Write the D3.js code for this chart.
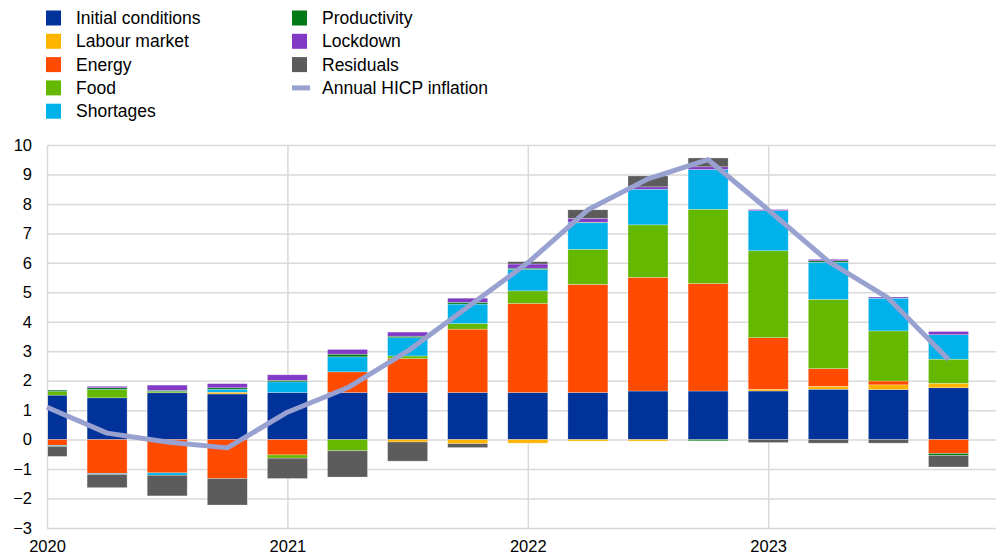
<!DOCTYPE html>
<html>
<head>
<meta charset="utf-8">
<script src="https://cdn.jsdelivr.net/npm/d3@7"></script>
<style>
  body { margin: 0; background: #fff; }
  text { font-family: Arial, "Liberation Sans", sans-serif; fill: #000; }
</style>
</head>
<body>
<div id="chart_area"></div>
<script>
// quarters 2020Q1 .. 2023Q4
var quarters = ["2020Q1","2020Q2","2020Q3","2020Q4","2021Q1","2021Q2","2021Q3","2021Q4",
                "2022Q1","2022Q2","2022Q3","2022Q4","2023Q1","2023Q2","2023Q3","2023Q4"];
var yearTicks = [0, 4, 8, 12];
var yearLabels = ["2020", "2021", "2022", "2023"];
var yTicks = [-3, -2, -1, 0, 1, 2, 3, 4, 5, 6, 7, 8, 9, 10];

// contributions (percentage points)
var initial      = [1.51, 1.42, 1.59, 1.55, 1.60, 1.60, 1.60, 1.60, 1.60, 1.60, 1.65, 1.65, 1.65, 1.71, 1.70, 1.76];
var labour       = [0, 0, 0, 0.06, 0, 0, -0.08, -0.14, -0.12, -0.05, -0.05, 0, 0.06, 0.10, 0.16, 0.15];
var energy       = [-0.20, -1.15, -1.13, -1.32, -0.52, 0.70, 1.15, 2.15, 3.02, 3.67, 3.86, 3.65, 1.75, 0.60, 0.13, -0.47];
var food         = [0.12, 0.28, 0.04, 0, -0.11, -0.38, 0.09, 0.19, 0.43, 1.19, 1.78, 2.52, 2.95, 2.35, 1.70, 0.82];
var shortages    = [-0.03, -0.03, -0.08, 0.10, 0.36, 0.51, 0.62, 0.66, 0.73, 0.90, 1.21, 1.35, 1.36, 1.26, 1.11, 0.83];
var productivity = [0.05, 0.06, 0.04, 0.05, 0.05, 0.09, 0.05, 0.06, 0.04, 0.02, 0, -0.04, 0, 0.05, 0, -0.07];
var lockdown     = [0, 0.05, 0.18, 0.14, 0.19, 0.16, 0.14, 0.14, 0.14, 0.13, 0.08, 0.09, 0.04, 0.05, 0.04, 0.11];
var residuals    = [-0.34, -0.45, -0.70, -0.90, -0.69, -0.89, -0.65, -0.13, 0.08, 0.29, 0.37, 0.30, -0.10, -0.12, -0.12, -0.39];

// annual HICP inflation
var hicp = [1.1, 0.22, -0.08, -0.28, 0.93, 1.76, 3.0, 4.5, 6.0, 7.8, 8.85, 9.5, 7.8, 6.05, 4.8, 2.72];

var seriesNames = ["Initial conditions", "Labour market", "Energy", "Food", "Shortages", "Productivity", "Lockdown", "Residuals"];
var seriesValues = [initial, labour, energy, food, shortages, productivity, lockdown, residuals];
var seriesColors = ["#003299", "#ffb400", "#ff4b00", "#65b800", "#00b1ea", "#007816", "#8139c6", "#5c5c5c"];
var lineName = "Annual HICP inflation";
var lineColor = "#98a1d0";

//////////////////////SETUP//////////////////////////

var frame_width = 996;
var frame_height = 558;
var plot = {left: 47, right: 996, top: 145, bottom: 528};

var svg = d3.select("#chart_area").append("svg")
    .attr("width", frame_width)
    .attr("height", frame_height);

// table for the stack
var table = quarters.map(function(q, i) {
  var row = {quarter: q, index: i};
  seriesNames.forEach(function(name, s) { row[name] = seriesValues[s][i]; });
  return row;
});

var stack = d3.stack()
    .keys(seriesNames)
    .offset(d3.stackOffsetDiverging);
var layers = stack(table);

// x: one step per quarter, year label sits on the first quarter
var step = 60.1;
var xScale = d3.scaleLinear()
    .domain([0, 1])
    .range([plot.left, plot.left + step]);
var yScale = d3.scaleLinear()
    .domain([-3, 10])
    .range([plot.bottom, plot.top]);
var barWidth = 40;

//////////////////////GRID + AXES//////////////////////////

var yAxis = d3.axisLeft(yScale)
    .tickValues(yTicks)
    .tickSize(-(plot.right - plot.left))
    .tickPadding(15)
    .tickFormat(d3.format("d"));
var gy = svg.append("g")
    .attr("transform", "translate(" + plot.left + ",0)")
    .call(yAxis);
gy.select(".domain").remove();
gy.selectAll("line").attr("stroke", "#d9d9d9").attr("stroke-width", 1.5);
gy.selectAll("text").style("font-size", "16.5px").attr("x", -15);

var xAxis = d3.axisBottom(xScale)
    .tickValues(yearTicks)
    .tickSize(-(plot.bottom - plot.top))
    .tickPadding(10)
    .tickFormat(function(d, i) { return yearLabels[i]; });
var gx = svg.append("g")
    .attr("transform", "translate(0," + plot.bottom + ")")
    .call(xAxis);
gx.select(".domain").remove();
gx.selectAll("line").attr("stroke", "#d9d9d9").attr("stroke-width", 1.5);
gx.selectAll("text").style("font-size", "16.5px").attr("y", 12);

//////////////////////BARS//////////////////////////

svg.append("clipPath").attr("id", "plotclip")
  .append("rect")
    .attr("x", plot.left + 1)
    .attr("y", 0)
    .attr("width", plot.right - plot.left)
    .attr("height", frame_height);

var barGroup = svg.append("g").attr("clip-path", "url(#plotclip)");

barGroup.selectAll("g.layer")
  .data(layers)
  .enter().append("g")
    .attr("class", "layer")
    .attr("fill", function(d, i) { return seriesColors[i]; })
  .selectAll("rect")
  .data(function(d) { return d; })
  .enter().append("rect")
    .attr("x", function(d) { return xScale(d.data.index) - barWidth / 2; })
    .attr("width", barWidth)
    .attr("y", function(d) { return yScale(Math.max(d[0], d[1])); })
    .attr("height", function(d) { return Math.abs(yScale(d[0]) - yScale(d[1])); })
    .attr("stroke", "rgba(255,255,255,0.45)")
    .attr("stroke-width", 0.6);

//////////////////////LINE//////////////////////////

var line = d3.line()
    .x(function(d, i) { return xScale(i); })
    .y(function(d) { return yScale(d); });

svg.append("path")
    .datum(hicp)
    .attr("fill", "none")
    .attr("stroke", lineColor)
    .attr("stroke-width", 5)
    .attr("stroke-linejoin", "round")
    .attr("d", line);

//////////////////////LEGEND//////////////////////////

var legendItems = seriesNames.map(function(name, i) {
  return {name: name, color: seriesColors[i], type: "box"};
});
legendItems.push({name: lineName, color: lineColor, type: "line"});

var rowGap = 23.3;
var legend = svg.append("g");
var item = legend.selectAll("g")
  .data(legendItems)
  .enter().append("g")
    .attr("transform", function(d, i) {
      var col = i < 5 ? 0 : 1;
      var row = i < 5 ? i : i - 5;
      return "translate(" + (col === 0 ? 46 : 292) + "," + (18 + row * rowGap) + ")";
    });

item.filter(function(d) { return d.type === "box"; })
  .append("rect")
    .attr("x", 0).attr("y", -7.5)
    .attr("width", 15).attr("height", 15)
    .attr("fill", function(d) { return d.color; });

item.filter(function(d) { return d.type === "line"; })
  .append("rect")
    .attr("x", 0).attr("y", -2.5)
    .attr("width", 18).attr("height", 5)
    .attr("fill", function(d) { return d.color; });

item.append("text")
    .attr("x", 30)
    .attr("dy", "0.35em")
    .style("font-size", "17.5px")
    .text(function(d) { return d.name; });
</script>
</body>
</html>
